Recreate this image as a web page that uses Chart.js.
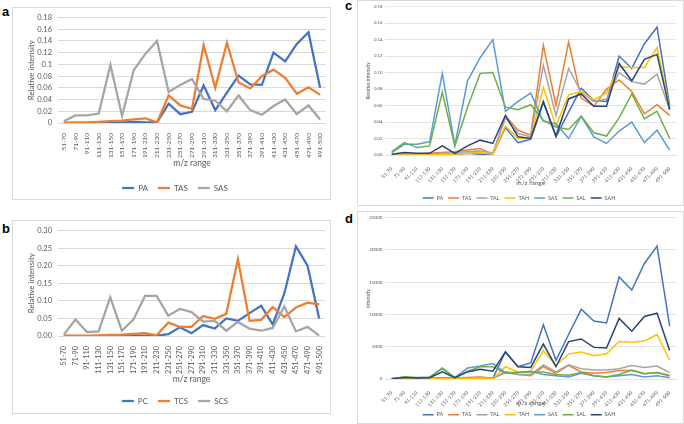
<!DOCTYPE html>
<html>
<head>
<meta charset="utf-8">
<script src="https://cdn.jsdelivr.net/npm/chart.js@4.4.1/dist/chart.umd.min.js"></script>
<style>
  body { margin: 0; background: #fff; width: 684px; height: 424px; position: relative; overflow: hidden; }
  .frame { position: absolute; border: 1px solid #d9d9d9; box-sizing: border-box; }
  canvas { position: absolute; }
  .tag { position: absolute; font: bold 13px/13px "Liberation Sans", Arial, sans-serif; color: #000; }
</style>
</head>
<body>
<div class="frame" style="left:12px;top:7px;width:319px;height:193px"></div>
<canvas id="chartA" style="left:12px;top:7px" width="318" height="192"></canvas>
<div class="tag" style="left:2px;top:5px">a</div>

<div class="frame" style="left:12px;top:220px;width:319px;height:194px"></div>
<canvas id="chartB" style="left:12px;top:220px" width="318" height="193"></canvas>
<div class="tag" style="left:2px;top:222px">b</div>

<div class="frame" style="left:357px;top:0px;width:327px;height:206px"></div>
<canvas id="chartC" style="left:357px;top:1px" width="326" height="204"></canvas>
<div class="tag" style="left:345px;top:-1px">c</div>

<div class="frame" style="left:357px;top:211px;width:327px;height:213px"></div>
<canvas id="chartD" style="left:357px;top:212px" width="326" height="211"></canvas>
<div class="tag" style="left:345px;top:212px">d</div>

<script>
    'use strict';

    // m/z bins shared by every panel
    const mzRanges = ['51-70', '71-90', '91-110', '111-130', '131-150', '151-170', '171-190', '191-210',
        '211-230', '231-250', '251-270', '271-290', '291-310', '311-330', '331-350', '351-370',
        '371-390', '391-410', '411-430', '431-450', '451-470', '471-490', '491-500'];

    // relative intensity (panels a and c)
    const relPA = [0, 0, 0, 0, 0.001, 0.001, 0.002, 0.001, 0.001, 0.033, 0.015, 0.019, 0.064, 0.022, 0.052, 0.081, 0.066, 0.065, 0.12, 0.105, 0.135, 0.155, 0.06];
    const relTAS = [0.0005, 0.001, 0.001, 0.002, 0.003, 0.004, 0.006, 0.008, 0.001, 0.047, 0.03, 0.024, 0.133, 0.06, 0.137, 0.069, 0.059, 0.08, 0.091, 0.077, 0.05, 0.061, 0.048];
    const relTAL = [0, 0.001, 0.001, 0.001, 0.002, 0.003, 0.004, 0.005, 0.002, 0.045, 0.026, 0.022, 0.109, 0.048, 0.105, 0.076, 0.065, 0.068, 0.1, 0.089, 0.086, 0.098, 0.055];
    const relTAH = [0, 0, 0, 0, 0.001, 0.001, 0.002, 0.003, 0.001, 0.035, 0.02, 0.02, 0.082, 0.035, 0.073, 0.077, 0.067, 0.075, 0.107, 0.106, 0.106, 0.13, 0.057];
    const relSAS = [0.003, 0.013, 0.013, 0.016, 0.099, 0.012, 0.09, 0.118, 0.14, 0.053, 0.065, 0.075, 0.041, 0.038, 0.02, 0.047, 0.022, 0.014, 0.029, 0.04, 0.015, 0.03, 0.006];
    const relSAL = [0.004, 0.015, 0.009, 0.011, 0.076, 0.011, 0.058, 0.099, 0.1, 0.058, 0.055, 0.061, 0.042, 0.034, 0.031, 0.047, 0.027, 0.023, 0.045, 0.074, 0.044, 0.053, 0.02];
    const relSAH = [0.001, 0.003, 0.002, 0.002, 0.011, 0.002, 0.011, 0.018, 0.014, 0.048, 0.022, 0.02, 0.065, 0.023, 0.068, 0.074, 0.059, 0.059, 0.111, 0.09, 0.116, 0.122, 0.055];

    // relative intensity (panel b)
    const relPC = [0, 0, 0, 0, 0, 0, 0.001, 0.001, 0.001, 0.005, 0.025, 0.008, 0.031, 0.021, 0.05, 0.043, 0.065, 0.086, 0.033, 0.121, 0.255, 0.2, 0.05];
    const relTCS = [0.002, 0.001, 0.001, 0.002, 0.003, 0.004, 0.006, 0.008, 0.002, 0.038, 0.026, 0.026, 0.057, 0.049, 0.063, 0.218, 0.043, 0.046, 0.082, 0.054, 0.081, 0.095, 0.09];
    const relSCS = [0.004, 0.047, 0.011, 0.013, 0.11, 0.015, 0.047, 0.114, 0.114, 0.058, 0.077, 0.068, 0.041, 0.043, 0.015, 0.04, 0.021, 0.015, 0.023, 0.084, 0.013, 0.026, 0.001];

    // absolute intensity (panel d)
    const intPA = [50, 100, 80, 100, 150, 100, 150, 150, 100, 4200, 1900, 2500, 8400, 2900, 6900, 10800, 9000, 8700, 15800, 13800, 17900, 20600, 8200];
    const intTAS = [30, 50, 50, 80, 100, 150, 250, 300, 100, 1100, 700, 500, 1900, 900, 2100, 1100, 900, 1000, 1300, 1300, 800, 1000, 600];
    const intTAL = [20, 40, 40, 50, 60, 80, 150, 200, 50, 1000, 700, 700, 2200, 1100, 2200, 1600, 1400, 1400, 1600, 2100, 1800, 2000, 1000];
    const intTAH = [10, 20, 20, 30, 40, 50, 80, 100, 30, 1900, 1100, 1200, 4400, 2100, 3900, 4200, 3600, 3900, 5800, 5700, 5900, 6900, 2900];
    const intSAS = [50, 300, 250, 300, 1600, 200, 1700, 2000, 2400, 1000, 1000, 1200, 700, 500, 300, 900, 500, 300, 500, 700, 300, 500, 200];
    const intSAL = [50, 300, 200, 250, 1700, 200, 1200, 1900, 1900, 900, 1000, 1100, 1100, 700, 600, 1000, 500, 300, 700, 1400, 800, 1000, 450];
    const intSAH = [50, 250, 150, 200, 1100, 200, 1100, 1500, 1200, 4200, 1900, 1800, 5400, 1900, 5800, 6200, 4900, 4800, 9400, 7400, 9700, 10200, 4400];

    // y-axis ticks
    const ticksA = [0, 0.02, 0.04, 0.06, 0.08, 0.1, 0.12, 0.14, 0.16, 0.18];
    const ticksB = [0, 0.05, 0.1, 0.15, 0.2, 0.25, 0.3];
    const ticksC = [0, 0.02, 0.04, 0.06, 0.08, 0.1, 0.12, 0.14, 0.16, 0.18];
    const ticksD = [0, 5000, 10000, 15000, 20000, 25000];

    const grey = '#595959';
    const blue = '#4472C4', orange = '#ED7D31', silver = '#A5A5A5', gold = '#FFC000',
        sky = '#5B9BD5', green = '#70AD47', navy = '#264478';

    function drawPanel(id, series, o) {
        const f = size => ({ family: 'Lato', size });
        return new Chart(document.getElementById(id), {
            type: 'line',
            data: {
                labels: mzRanges,
                datasets: series.map(([label, data, color], i) => ({
                    label, data,
                    borderColor: color, backgroundColor: color,
                    borderWidth: o.lw, pointRadius: 0, pointHoverRadius: 0, tension: 0,
                    order: series.length - i   // later series on top, like Excel
                }))
            },
            options: {
                responsive: false,
                animation: false,
                layout: { padding: o.pad },
                plugins: {
                    tooltip: { enabled: false },
                    legend: {
                        position: 'bottom',
                        labels: {
                            usePointStyle: true, pointStyle: 'line', pointStyleWidth: o.key,
                            padding: o.keyGap, color: grey, font: f(o.legendSize),
                            sort: (a, b) => a.datasetIndex - b.datasetIndex
                        }
                    }
                },
                scales: {
                    x: {
                        offset: true,
                        grid: { display: false },
                        border: { color: o.grid },
                        ticks: {
                            autoSkip: false, minRotation: o.rot, maxRotation: o.rot,
                            padding: o.xPad, color: grey, font: f(o.xTick)
                        },
                        title: {
                            display: true, text: 'm/z range', color: grey, font: f(o.xTitle),
                            padding: { top: 0, bottom: o.xTitlePad }
                        },
                        afterFit: s => { s.height = o.xh; }
                    },
                    y: {
                        min: o.yTicks[0],
                        max: o.yTicks[o.yTicks.length - 1],
                        grid: { color: o.grid, drawTicks: false },
                        border: { display: false },
                        afterBuildTicks: s => { s.ticks = o.yTicks.map(value => ({ value })); },
                        ticks: { autoSkip: false, callback: o.fmt, padding: o.yPad, color: grey, font: f(o.yTick) },
                        title: {
                            display: true, text: o.yTitle, color: grey, font: f(o.yTitleSize),
                            padding: { top: o.yTitlePad, bottom: 0 }
                        },
                        afterFit: s => { s.width = o.yw; }
                    }
                }
            }
        });
    }

    const big = {
        lw: 2.25, yw: 34, yTitle: 'Relative intensity', yTitleSize: 8, yTitlePad: 3,
        yTick: 7.5, yPad: 6, xTick: 7.5, rot: 90, xPad: 2, xTitle: 8.5,
        legendSize: 8, key: 12, keyGap: 10, grid: '#d9d9d9'
    };
    const small = {
        lw: 1.5, yw: 23.4, yTitleSize: 5, yTitlePad: 3, yTick: 4.3, yPad: 3,
        xTick: 5, rot: 45, xPad: 3, xTitle: 6.5, legendSize: 5.5, key: 11, keyGap: 5,
        grid: '#e3e3e3', fmt: v => v.toFixed(2)
    };

    drawPanel('chartA', [['PA', relPA, blue], ['TAS', relTAS, orange], ['SAS', relSAS, silver]],
        Object.assign({}, big, {
            pad: { left: 12, right: 4, top: 10, bottom: -3 }, xh: 51, xTitlePad: 5.6, xTick: 6.5,
            yTicks: ticksA, fmt: v => String(+v.toFixed(2))
        }));

    drawPanel('chartB', [['PC', relPC, blue], ['TCS', relTCS, orange], ['SCS', relSCS, silver]],
        Object.assign({}, big, {
            pad: { left: 12, right: 4, top: 10, bottom: -2 }, xh: 51, xTitlePad: 3, xTick: 7.3,
            yTicks: ticksB, fmt: v => v.toFixed(2)
        }));

    drawPanel('chartC', [['PA', relPA, blue], ['TAS', relTAS, orange], ['TAL', relTAL, silver],
        ['TAH', relTAH, gold], ['SAS', relSAS, sky], ['SAL', relSAL, green], ['SAH', relSAH, navy]],
        Object.assign({}, small, {
            pad: { left: 5, right: 7, top: 5, bottom: -5.75 }, xh: 35.25, xTitlePad: 3.4,
            yTicks: ticksC, yTitle: 'Relative intensity'
        }));

    drawPanel('chartD', [['PA', intPA, blue], ['TAS', intTAS, orange], ['TAL', intTAL, silver],
        ['TAH', intTAH, gold], ['SAS', intSAS, sky], ['SAL', intSAL, green], ['SAH', intSAH, navy]],
        Object.assign({}, small, {
            pad: { left: 5, right: 7, top: 3.7, bottom: -4.45 }, xh: 27.95, xTitlePad: 0.35,
            yTicks: ticksD, yTitle: 'Intensity', yTick: 4.5, fmt: v => String(v)
        }));
</script>
</body>
</html>
